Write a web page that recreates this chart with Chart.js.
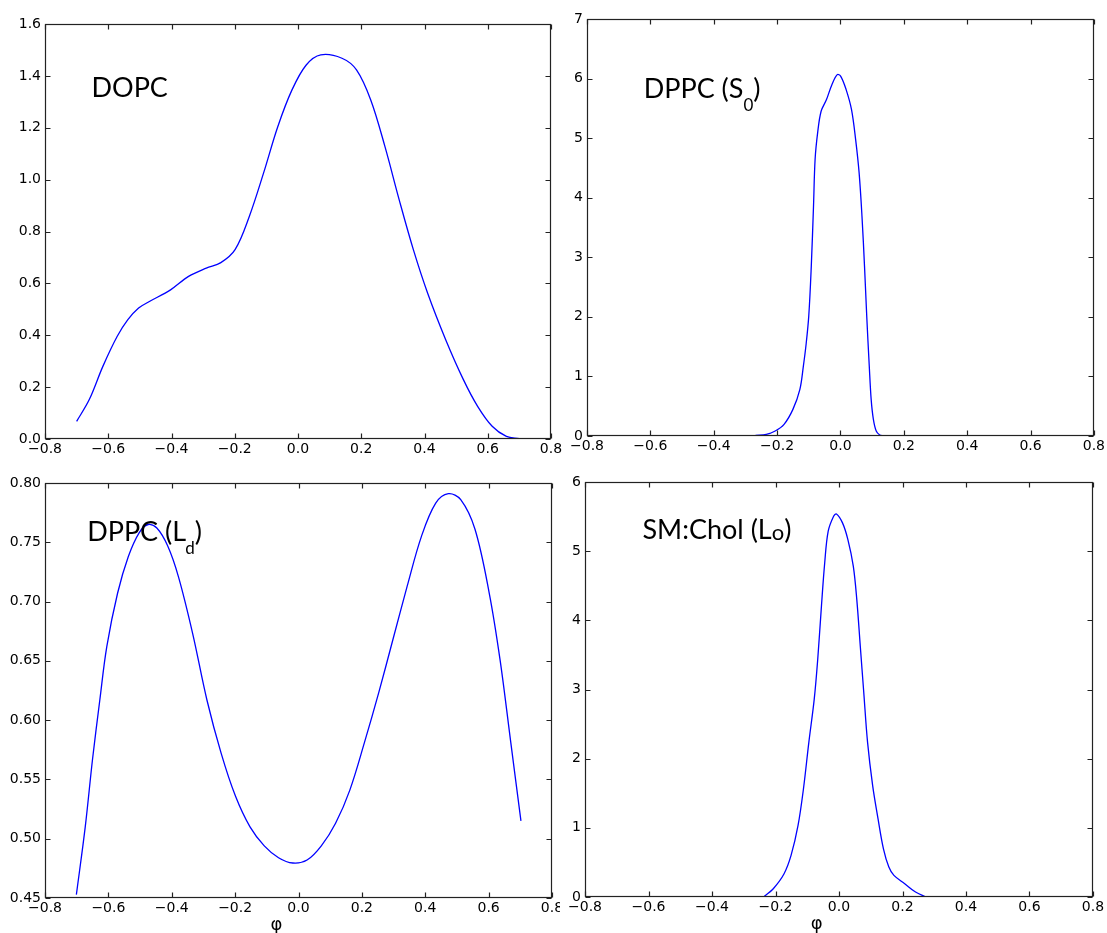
<!DOCTYPE html>
<html>
<head>
<meta charset="utf-8">
<title>Order parameter distributions</title>
<script src="https://cdn.jsdelivr.net/npm/chart.js@4.4.1/dist/chart.umd.min.js"></script>
<style>
  html, body { margin: 0; padding: 0; background: #fff; }
  #figure { position: relative; width: 1107px; height: 933px; overflow: hidden; }
  .cell { position: absolute; overflow: hidden; }
  .cell canvas { display: block; }
</style>
</head>
<body>
<div id="figure">
  <div class="cell" style="left:0;top:0;width:575px;height:470px"><canvas id="dopcChart" width="575" height="470"></canvas></div>
  <div class="cell" style="left:560px;top:0;width:547px;height:470px"><canvas id="dppcSoChart" width="547" height="470"></canvas></div>
  <div class="cell" style="left:0;top:460px;width:560px;height:473px"><canvas id="dppcLdChart" width="580" height="473"></canvas></div>
  <div class="cell" style="left:560px;top:460px;width:547px;height:473px"><canvas id="smcholChart" width="547" height="473"></canvas></div>
</div>
<script>
// shared x axis
const xTickValues = [-0.8, -0.6, -0.4, -0.2, 0.0, 0.2, 0.4, 0.6, 0.8];
const xTickLabels = ['\u22120.8', '\u22120.6', '\u22120.4', '\u22120.2', '0.0', '0.2', '0.4', '0.6', '0.8'];

// DOPC
const dopcX = [-0.700, -0.660, -0.617, -0.572, -0.538, -0.504, -0.470, -0.403, -0.346, -0.290, -0.244, -0.199, -0.154, -0.109, -0.064, -0.019, 0.026, 0.072, 0.139, 0.185, 0.230, 0.275, 0.320, 0.365, 0.410, 0.467, 0.523, 0.568, 0.614, 0.659, 0.700];
const dopcY = [0.068, 0.152, 0.280, 0.395, 0.460, 0.505, 0.530, 0.575, 0.627, 0.659, 0.680, 0.730, 0.858, 1.025, 1.204, 1.346, 1.442, 1.481, 1.468, 1.423, 1.307, 1.127, 0.922, 0.729, 0.562, 0.383, 0.229, 0.126, 0.049, 0.010, 0.001];
const dopcTicks = [0.0, 0.2, 0.4, 0.6, 0.8, 1.0, 1.2, 1.4, 1.6];
const dopcTickLabels = ['0.0', '0.2', '0.4', '0.6', '0.8', '1.0', '1.2', '1.4', '1.6'];

// DPPC gel (S0)
const dppcSoX = [-0.268, -0.234, -0.206, -0.178, -0.150, -0.128, -0.117, -0.109, -0.100, -0.092, -0.085, -0.080, -0.072, -0.061, -0.044, -0.027, -0.010, 0.001, 0.018, 0.035, 0.048, 0.059, 0.068, 0.076, 0.083, 0.091, 0.097, 0.104, 0.113, 0.124, 0.135];
const dppcSoY = [0.011, 0.028, 0.084, 0.196, 0.447, 0.783, 1.174, 1.510, 2.013, 2.852, 3.858, 4.641, 5.088, 5.451, 5.647, 5.898, 6.066, 6.038, 5.815, 5.479, 4.976, 4.417, 3.690, 2.852, 2.013, 1.174, 0.615, 0.280, 0.084, 0.017, 0.000];
const dppcSoTicks = [0, 1, 2, 3, 4, 5, 6, 7];
const dppcSoTickLabels = ['0', '1', '2', '3', '4', '5', '6', '7'];

// DPPC fluid (Ld)
const dppcLdX = [-0.701, -0.673, -0.650, -0.627, -0.605, -0.571, -0.537, -0.503, -0.475, -0.447, -0.413, -0.379, -0.334, -0.289, -0.244, -0.199, -0.153, -0.108, -0.063, -0.018, 0.027, 0.072, 0.117, 0.162, 0.208, 0.253, 0.298, 0.343, 0.388, 0.433, 0.473, 0.512, 0.557, 0.602, 0.636, 0.670, 0.702];
const dppcLdY = [0.4528, 0.510, 0.567, 0.617, 0.662, 0.707, 0.738, 0.758, 0.765, 0.762, 0.747, 0.721, 0.673, 0.617, 0.572, 0.536, 0.510, 0.494, 0.484, 0.4795, 0.482, 0.494, 0.513, 0.541, 0.581, 0.623, 0.668, 0.713, 0.755, 0.783, 0.791, 0.786, 0.761, 0.707, 0.651, 0.581, 0.515];
const dppcLdTicks = [0.45, 0.50, 0.55, 0.60, 0.65, 0.70, 0.75, 0.80];
const dppcLdTickLabels = ['0.45', '0.50', '0.55', '0.60', '0.65', '0.70', '0.75', '0.80'];

// SM:Chol (Lo)
const smcholX = [-0.235, -0.207, -0.173, -0.151, -0.129, -0.112, -0.095, -0.078, -0.067, -0.056, -0.045, -0.034, -0.017, -0.008, 0.011, 0.028, 0.045, 0.056, 0.067, 0.078, 0.090, 0.106, 0.123, 0.140, 0.157, 0.173, 0.207, 0.241, 0.274];
const smcholY = [0.010, 0.120, 0.337, 0.601, 1.034, 1.562, 2.236, 2.861, 3.438, 4.159, 4.832, 5.288, 5.505, 5.538, 5.409, 5.168, 4.784, 4.303, 3.630, 2.957, 2.236, 1.611, 1.130, 0.697, 0.433, 0.312, 0.192, 0.072, 0.000];
const smcholTicks = [0, 1, 2, 3, 4, 5, 6];
const smcholTickLabels = ['0', '1', '2', '3', '4', '5', '6'];

const LINE_BLUE = '#0000ff';
const TICK_LEN = 5;
const TICK_FONT = { family: 'DejaVu Sans', size: 14 };
const LABEL_FAMILY = 'Lato';

// box around the axes plus inward ticks on all four sides
const frameTicks = {
    id: 'frameTicks',
    afterDatasetsDraw(chart) {
        const { ctx, chartArea: a, scales: { x, y } } = chart;
        const L = Math.round(a.left) + 0.5, R = Math.round(a.right) - 0.5;
        const T = Math.round(a.top) + 0.5, B = Math.round(a.bottom) - 0.5;
        ctx.save();
        ctx.strokeStyle = '#222';
        ctx.lineWidth = 1.2;
        ctx.beginPath();
        x.ticks.forEach(t => {
            const px = Math.round(x.getPixelForValue(t.value)) + 0.5;
            ctx.moveTo(px, B); ctx.lineTo(px, B - TICK_LEN);
            ctx.moveTo(px, T); ctx.lineTo(px, T + TICK_LEN);
        });
        y.ticks.forEach(t => {
            const py = Math.round(y.getPixelForValue(t.value)) + 0.5;
            ctx.moveTo(L, py); ctx.lineTo(L + TICK_LEN, py);
            ctx.moveTo(R, py); ctx.lineTo(R - TICK_LEN, py);
        });
        ctx.stroke();
        ctx.strokeRect(L, T, R - L, B - T);
        ctx.restore();
    }
};

// panel name (with subscript) and optional phi axis title
function makeOverlay(parts, at, showPhi) {
    return {
        id: 'overlay',
        afterDraw(chart) {
            const { ctx, chartArea: a, scales: { x, y } } = chart;
            ctx.save();
            ctx.fillStyle = '#000';
            ctx.textBaseline = 'alphabetic';
            ctx.textAlign = 'left';
            let px = x.getPixelForValue(at.x);
            const base = y.getPixelForValue(at.y);
            parts.forEach(p => {
                ctx.font = (p.size || 27) + 'px ' + LABEL_FAMILY;
                px += p.shift || 0;
                ctx.fillText(p.text, px, base + (p.drop || 0));
                px += ctx.measureText(p.text).width;
            });
            if (showPhi) {
                ctx.font = '18px "DejaVu Sans"';
                ctx.textAlign = 'center';
                ctx.textBaseline = 'middle';
                ctx.fillText('\u03c6', x.getPixelForValue(-0.07), a.bottom + 27);
            }
            ctx.restore();
        }
    };
}

function makeChart(id, xs, ys, yTicks, yLabels, geom, overlay) {
    const points = xs.map((v, i) => ({ x: v, y: ys[i] }));
    return new Chart(document.getElementById(id), {
        type: 'scatter',
        data: {
            datasets: [{
                data: points,
                showLine: true,
                borderColor: LINE_BLUE,
                borderWidth: 1.3,
                pointRadius: 0,
                tension: 0.35,
                fill: false
            }]
        },
        options: {
            responsive: false,
            animation: false,
            events: [],
            layout: { padding: { top: geom.top, right: geom.right, left: 0, bottom: 0 } },
            plugins: { legend: { display: false }, tooltip: { enabled: false } },
            scales: {
                x: {
                    type: 'linear',
                    min: xTickValues[0],
                    max: xTickValues[xTickValues.length - 1],
                    afterBuildTicks: s => { s.ticks = xTickValues.map(v => ({ value: v })); },
                    afterFit: s => { s.height = geom.xh; },
                    grid: { display: false, drawTicks: false },
                    border: { display: false },
                    ticks: {
                        autoSkip: false, maxRotation: 0, padding: 2,
                        color: '#000', font: TICK_FONT,
                        callback: (v, i) => xTickLabels[i]
                    }
                },
                y: {
                    type: 'linear',
                    min: yTicks[0],
                    max: yTicks[yTicks.length - 1],
                    afterBuildTicks: s => { s.ticks = yTicks.map(v => ({ value: v })); },
                    afterFit: s => { s.width = geom.yw; },
                    grid: { display: false, drawTicks: false },
                    border: { display: false },
                    ticks: {
                        autoSkip: false, padding: 4,
                        color: '#000', font: TICK_FONT,
                        callback: (v, i) => yLabels[i]
                    }
                }
            }
        },
        plugins: [frameTicks, overlay]
    });
}

makeChart('dopcChart', dopcX, dopcY, dopcTicks, dopcTickLabels,
    { top: 24, right: 24, yw: 45, xh: 31 },
    makeOverlay([{ text: 'DOPC' }], { x: -0.653, y: 1.3175 }, false));

makeChart('dppcSoChart', dppcSoX, dppcSoY, dppcSoTicks, dppcSoTickLabels,
    { top: 19, right: 12, yw: 27, xh: 34 },
    makeOverlay([{ text: 'DPPC (S' }, { text: '0', size: 17, drop: 13 }, { text: ')' }], { x: -0.621, y: 5.675 }, false));

makeChart('dppcLdChart', dppcLdX, dppcLdY, dppcLdTicks, dppcLdTickLabels,
    { top: 23, right: 28, yw: 45, xh: 35 },
    makeOverlay([{ text: 'DPPC (L' }, { text: 'd', size: 17, drop: 13, shift: -1 }, { text: ')' }], { x: -0.667, y: 0.7508 }, true));

makeChart('smcholChart', smcholX, smcholY, smcholTicks, smcholTickLabels,
    { top: 22, right: 14, yw: 25, xh: 36 },
    makeOverlay([{ text: 'SM:Chol (L' }, { text: 'o', size: 22, drop: 1 }, { text: ')' }], { x: -0.619, y: 5.178 }, true));
</script>
</body>
</html>
